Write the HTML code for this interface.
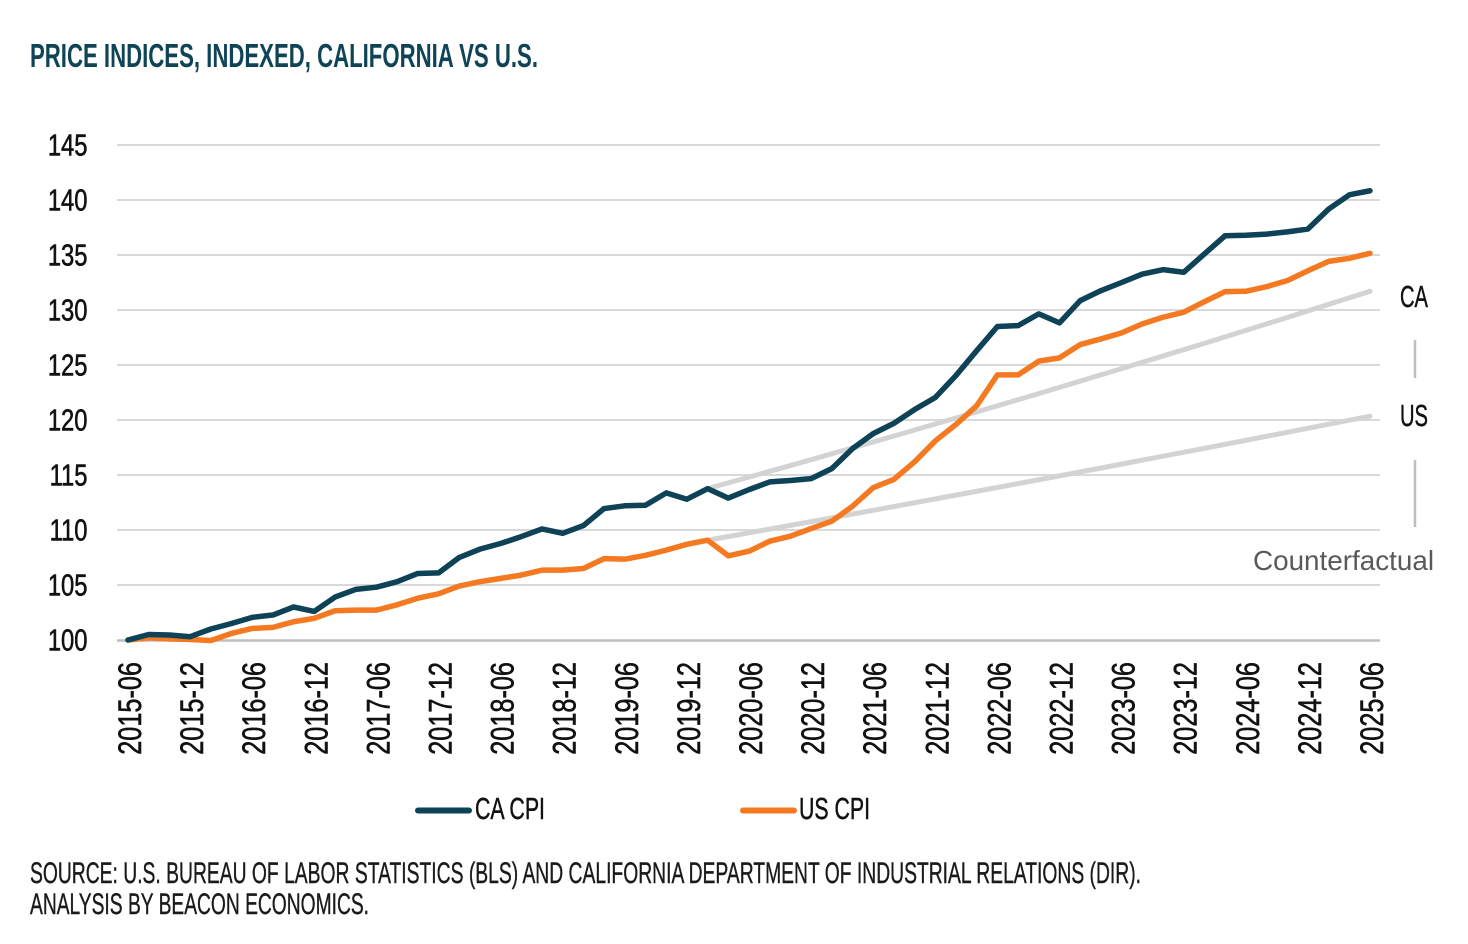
<!DOCTYPE html>
<html>
<head>
<meta charset="utf-8">
<style>
  html, body { margin: 0; padding: 0; background: #ffffff; }
  body { width: 1468px; height: 944px; overflow: hidden; }
  svg { display: block; }
  text { font-family: "Liberation Sans", "DejaVu Sans", sans-serif; }
</style>
</head>
<body>
<svg width="1468" height="944" viewBox="0 0 1468 944" xmlns="http://www.w3.org/2000/svg">
  <rect x="0" y="0" width="1468" height="944" fill="#ffffff"/>

  <!-- Title -->
  <text x="30" y="67" font-size="33.5" font-weight="bold" fill="#0f4457" textLength="508" lengthAdjust="spacingAndGlyphs">PRICE INDICES, INDEXED, CALIFORNIA VS U.S.</text>

  <!-- Gridlines -->
  <g stroke="#d9d9d9" stroke-width="2">
    <line x1="117" y1="145" x2="1380" y2="145"/>
    <line x1="117" y1="200" x2="1380" y2="200"/>
    <line x1="117" y1="255" x2="1380" y2="255"/>
    <line x1="117" y1="310" x2="1380" y2="310"/>
    <line x1="117" y1="365" x2="1380" y2="365"/>
    <line x1="117" y1="420" x2="1380" y2="420"/>
    <line x1="117" y1="475" x2="1380" y2="475"/>
    <line x1="117" y1="530" x2="1380" y2="530"/>
    <line x1="117" y1="585" x2="1380" y2="585"/>
  </g>
  <line x1="117" y1="640.5" x2="1380" y2="640.5" stroke="#bdbdbd" stroke-width="2.5"/>

  <!-- Y labels -->
  <g font-size="30.5" fill="#111111" stroke="#111111" stroke-width="0.6" text-anchor="end">
    <text transform="translate(87.5,155.5) scale(0.78,1)">145</text>
    <text transform="translate(87.5,210.5) scale(0.78,1)">140</text>
    <text transform="translate(87.5,265.5) scale(0.78,1)">135</text>
    <text transform="translate(87.5,320.5) scale(0.78,1)">130</text>
    <text transform="translate(87.5,375.5) scale(0.78,1)">125</text>
    <text transform="translate(87.5,430.5) scale(0.78,1)">120</text>
    <text transform="translate(87.5,485.5) scale(0.78,1)">115</text>
    <text transform="translate(87.5,540.5) scale(0.78,1)">110</text>
    <text transform="translate(87.5,595.5) scale(0.78,1)">105</text>
    <text transform="translate(87.5,650.5) scale(0.78,1)">100</text>
  </g>

  <!-- X labels (rotated) -->
  <g font-size="32" fill="#111111" stroke="#111111" stroke-width="0.6" text-anchor="end">
    <text transform="translate(141,662) rotate(-90) scale(0.79,1)">2015-06</text>
    <text transform="translate(203.1,662) rotate(-90) scale(0.79,1)">2015-12</text>
    <text transform="translate(265.2,662) rotate(-90) scale(0.79,1)">2016-06</text>
    <text transform="translate(327.3,662) rotate(-90) scale(0.79,1)">2016-12</text>
    <text transform="translate(389.4,662) rotate(-90) scale(0.79,1)">2017-06</text>
    <text transform="translate(451.5,662) rotate(-90) scale(0.79,1)">2017-12</text>
    <text transform="translate(513.6,662) rotate(-90) scale(0.79,1)">2018-06</text>
    <text transform="translate(575.7,662) rotate(-90) scale(0.79,1)">2018-12</text>
    <text transform="translate(637.8,662) rotate(-90) scale(0.79,1)">2019-06</text>
    <text transform="translate(699.9,662) rotate(-90) scale(0.79,1)">2019-12</text>
    <text transform="translate(762,662) rotate(-90) scale(0.79,1)">2020-06</text>
    <text transform="translate(824.1,662) rotate(-90) scale(0.79,1)">2020-12</text>
    <text transform="translate(886.2,662) rotate(-90) scale(0.79,1)">2021-06</text>
    <text transform="translate(948.3,662) rotate(-90) scale(0.79,1)">2021-12</text>
    <text transform="translate(1010.4,662) rotate(-90) scale(0.79,1)">2022-06</text>
    <text transform="translate(1072.5,662) rotate(-90) scale(0.79,1)">2022-12</text>
    <text transform="translate(1134.6,662) rotate(-90) scale(0.79,1)">2023-06</text>
    <text transform="translate(1196.7,662) rotate(-90) scale(0.79,1)">2023-12</text>
    <text transform="translate(1258.8,662) rotate(-90) scale(0.79,1)">2024-06</text>
    <text transform="translate(1320.9,662) rotate(-90) scale(0.79,1)">2024-12</text>
    <text transform="translate(1383,662) rotate(-90) scale(0.79,1)">2025-06</text>
  </g>

  <!-- Data series in data coordinates: x = 128 + 20.7*i, y = 1740 - 11*v -->
  <g transform="matrix(20.7 0 0 -11 128 1740)" fill="none" stroke-linejoin="round" stroke-linecap="round">
    <!-- Counterfactual lines -->
    <polyline vector-effect="non-scaling-stroke" stroke="#d3d3d3" stroke-width="5"
      points="28,113.76 32,115.86 36,118.00 40,120.18 44,122.40 48,124.67 52,126.97 56,129.32 60,131.7"/>
    <polyline vector-effect="non-scaling-stroke" stroke="#d3d3d3" stroke-width="5"
      points="28,109.07 32,110.42 36,111.79 40,113.17 44,114.57 48,115.99 52,117.43 56,118.88 60,120.35"/>

    <!-- US CPI -->
    <polyline vector-effect="non-scaling-stroke" stroke="#f47920" stroke-width="5.5"
      points="0,100 1,100.2 2,100.1 3,100.05 4,99.95 5,100.6 6,101.05 7,101.15 8,101.66 9,101.97 10,102.66 11,102.72 12,102.72 13,103.2 14,103.8 15,104.2 16,104.9 17,105.3 18,105.6 19,105.9 20,106.35 21,106.35 22,106.5 23,107.4 24,107.35 25,107.7 26,108.17 27,108.7 28,109.07 29,107.65 30,108.07 31,108.98 32,109.44 33,110.13 34,110.8 35,112.16 36,113.85 37,114.6 38,116.2 39,118.1 40,119.6 41,121.3 42,124.1 43,124.1 44,125.35 45,125.65 46,126.86 47,127.37 48,127.92 49,128.74 50,129.34 51,129.8 52,130.76 53,131.67 54,131.7 55,132.12 56,132.67 57,133.57 58,134.42 59,134.7 60,135.15"/>

    <!-- CA CPI -->
    <polyline vector-effect="non-scaling-stroke" stroke="#0e4256" stroke-width="5.5"
      points="0,100 1,100.5 2,100.45 3,100.3 4,101.0 5,101.5 6,102.06 7,102.27 8,103.0 9,102.6 10,103.9 11,104.6 12,104.8 13,105.3 14,106.05 15,106.1 16,107.5 17,108.26 18,108.77 19,109.4 20,110.1 21,109.7 22,110.4 23,111.95 24,112.2 25,112.25 26,113.37 27,112.8 28,113.76 29,112.9 30,113.67 31,114.37 32,114.5 33,114.67 34,115.58 35,117.4 36,118.76 37,119.7 38,120.95 39,122.05 40,124.05 41,126.3 42,128.5 43,128.58 44,129.65 45,128.83 46,130.85 47,131.76 48,132.5 49,133.27 50,133.67 51,133.43 52,135.1 53,136.75 54,136.8 55,136.9 56,137.1 57,137.36 58,139.17 59,140.47 60,140.84"/>
  </g>

  <!-- Right-side annotation -->
  <text x="1400" y="307" font-size="31" fill="#111111" stroke="#111111" stroke-width="0.5" textLength="28" lengthAdjust="spacingAndGlyphs">CA</text>
  <line x1="1415" y1="340" x2="1415" y2="378" stroke="#bdbdbd" stroke-width="2.5"/>
  <text x="1400" y="426" font-size="31" fill="#111111" stroke="#111111" stroke-width="0.5" textLength="28" lengthAdjust="spacingAndGlyphs">US</text>
  <line x1="1415" y1="460" x2="1415" y2="527" stroke="#bdbdbd" stroke-width="2.5"/>
  <text x="1253" y="570" font-size="28" fill="#595959" textLength="181" lengthAdjust="spacingAndGlyphs">Counterfactual</text>

  <!-- Legend -->
  <line x1="418" y1="810.5" x2="469" y2="810.5" stroke="#0e4256" stroke-width="6" stroke-linecap="round"/>
  <text x="475" y="819" font-size="31" fill="#111111" stroke="#111111" stroke-width="0.5" textLength="70" lengthAdjust="spacingAndGlyphs">CA CPI</text>
  <line x1="743" y1="810.5" x2="794" y2="810.5" stroke="#f47920" stroke-width="6" stroke-linecap="round"/>
  <text x="799" y="819" font-size="31" fill="#111111" stroke="#111111" stroke-width="0.5" textLength="71" lengthAdjust="spacingAndGlyphs">US CPI</text>

  <!-- Source -->
  <text x="30" y="883" font-size="30" fill="#1a1a1a" stroke="#1a1a1a" stroke-width="0.4" textLength="1111" lengthAdjust="spacingAndGlyphs">SOURCE: U.S. BUREAU OF LABOR STATISTICS (BLS) AND CALIFORNIA DEPARTMENT OF INDUSTRIAL RELATIONS (DIR).</text>
  <text x="30" y="914" font-size="30" fill="#1a1a1a" stroke="#1a1a1a" stroke-width="0.4" textLength="339" lengthAdjust="spacingAndGlyphs">ANALYSIS BY BEACON ECONOMICS.</text>
</svg>
</body>
</html>
